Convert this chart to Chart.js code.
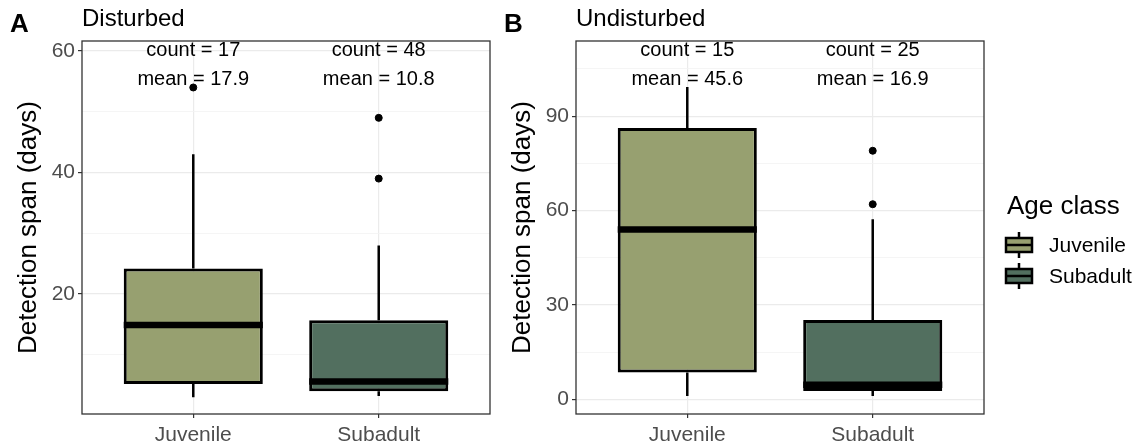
<!DOCTYPE html>
<html lang="en">
<head>
<meta charset="UTF-8"/>
<title>Detection span by age class</title>
<script src="https://cdn.jsdelivr.net/npm/chart.js"></script>
<style>
  body { margin: 0; background: #fff; width: 1145px; height: 448px; overflow: hidden; position: relative; }
  #panelA { position: absolute; left: 0; top: 0; }
  #panelB { position: absolute; left: 500px; top: 0; }
</style>
</head>
<body>
<canvas id="panelA" width="500" height="448"></canvas>
<canvas id="panelB" width="645" height="448"></canvas>
<script>
const categories = ['Juvenile', 'Subadult'];

// A: disturbed sites
const disturbedLow = [3, 3.2];
const disturbedQ1 = [5.2, 4.0];
const disturbedMedian = [14.9, 5.6];
const disturbedQ3 = [24.2, 15.7];
const disturbedHigh = [43, 28];
const disturbedOutliers = [[54], [49, 39]];
const disturbedCount = [17, 48];
const disturbedMean = [17.9, 10.8];
const disturbedTicks = [20, 40, 60];
const disturbedMinor = [10, 30, 50];

// B: undisturbed sites
const undisturbedLow = [1, 1];
const undisturbedQ1 = [8.5, 2.6];
const undisturbedMedian = [54, 4.6];
const undisturbedQ3 = [86.2, 25.2];
const undisturbedHigh = [99.3, 57.2];
const undisturbedOutliers = [[], [79, 62]];
const undisturbedCount = [15, 25];
const undisturbedMean = [45.6, 16.9];
const undisturbedTicks = [0, 30, 60, 90];
const undisturbedMinor = [15, 45, 75, 105];

const fillColors = ['#97a070', '#526f5f'];
const FONT = '"Liberation Sans", Arial, sans-serif';

function makePanel(id, p) {
  const parts = {
    id: 'boxParts',
    afterDatasetsDraw(chart) {
      const { ctx, scales: { x, y } } = chart;
      const bars = chart.getDatasetMeta(0).data;
      ctx.save();
      ctx.strokeStyle = '#000';
      ctx.lineCap = 'butt';
      p.median.forEach((m, i) => {
        const cx = x.getPixelForValue(i + 1);
        ctx.lineWidth = 2.5;
        ctx.beginPath();
        ctx.moveTo(cx, y.getPixelForValue(p.q3[i]));
        ctx.lineTo(cx, y.getPixelForValue(p.high[i]));
        ctx.moveTo(cx, y.getPixelForValue(p.q1[i]));
        ctx.lineTo(cx, y.getPixelForValue(p.low[i]));
        ctx.stroke();
        const half = bars[i].width / 2;
        ctx.lineWidth = 6.5;
        ctx.beginPath();
        ctx.moveTo(cx - half, y.getPixelForValue(m));
        ctx.lineTo(cx + half, y.getPixelForValue(m));
        ctx.stroke();
      });
      ctx.restore();
    },
    afterDraw(chart) {
      const { ctx, chartArea: a, scales: { x } } = chart;
      ctx.save();
      ctx.strokeStyle = '#333';
      ctx.lineWidth = 1.3;
      ctx.strokeRect(a.left, a.top, a.right - a.left, a.bottom - a.top);

      ctx.fillStyle = '#000';
      ctx.textAlign = 'center';
      ctx.textBaseline = 'middle';
      ctx.font = '20px ' + FONT;
      p.count.forEach((c, i) => {
        const cx = x.getPixelForValue(i + 1);
        ctx.fillText('count = ' + c, cx, a.top + 9);
        ctx.fillText('mean = ' + p.mean[i].toFixed(1), cx, a.top + 38);
      });

      ctx.textAlign = 'left';
      ctx.textBaseline = 'alphabetic';
      ctx.font = 'bold 26px ' + FONT;
      ctx.fillText(p.letter, a.left - 72, 32);
      ctx.font = '24px ' + FONT;
      ctx.fillText(p.title, a.left, 26);

      ctx.save();
      ctx.translate(a.left - 53, (a.top + a.bottom) / 2);
      ctx.rotate(-Math.PI / 2);
      ctx.textAlign = 'center';
      ctx.textBaseline = 'middle';
      ctx.font = '26px ' + FONT;
      ctx.fillText('Detection span (days)', 0, 0);
      ctx.restore();

      if (p.legend) {
        const lx = a.right + 23;
        ctx.textAlign = 'left';
        ctx.textBaseline = 'alphabetic';
        ctx.font = '26px ' + FONT;
        ctx.fillText('Age class', lx, 214);
        categories.forEach((c, i) => {
          const cy = 245 + i * 31;
          const kx = lx + 12;
          ctx.strokeStyle = '#000';
          ctx.lineWidth = 2.5;
          ctx.beginPath();
          ctx.moveTo(kx, cy - 13); ctx.lineTo(kx, cy + 13);
          ctx.stroke();
          ctx.fillStyle = fillColors[i];
          ctx.fillRect(kx - 13, cy - 7, 26, 14);
          ctx.strokeRect(kx - 13, cy - 7, 26, 14);
          ctx.beginPath();
          ctx.moveTo(kx - 13, cy); ctx.lineTo(kx + 13, cy);
          ctx.stroke();
          ctx.fillStyle = '#000';
          ctx.textBaseline = 'middle';
          ctx.font = '21px ' + FONT;
          ctx.fillText(c, lx + 42, cy + 1);
          ctx.textBaseline = 'alphabetic';
        });
      }
      ctx.restore();
    }
  };

  const outliers = [];
  p.outliers.forEach((vals, i) => vals.forEach(v => outliers.push({ x: i + 1, y: v })));
  const isMajor = v => p.ticks.includes(v);

  return new Chart(document.getElementById(id), {
    type: 'bar',
    data: {
      datasets: [{
        data: categories.map((c, i) => ({ x: i + 1, y: [p.q1[i], p.q3[i]] })),
        backgroundColor: fillColors,
        borderColor: '#000',
        borderWidth: 3,
        borderSkipped: false,
        barPercentage: 0.75,
        categoryPercentage: 1
      }, {
        type: 'scatter',
        data: outliers,
        backgroundColor: '#000',
        borderColor: '#000',
        pointRadius: 3.5
      }]
    },
    options: {
      responsive: false,
      animation: false,
      layout: { padding: { left: p.padLeft, right: p.padRight, top: 41, bottom: 0 } },
      plugins: { legend: { display: false }, tooltip: { enabled: false } },
      scales: {
        x: {
          type: 'linear', min: 0.4, max: 2.6, offset: false,
          afterBuildTicks: s => { s.ticks = categories.map((c, i) => ({ value: i + 1 })); },
          afterFit: s => { s.height = 34; },
          grid: { offset: false, color: '#ebebeb', lineWidth: 1.2, tickLength: 4, tickColor: '#333' },
          border: { display: false },
          ticks: {
            callback: v => categories[v - 1],
            color: '#4d4d4d', font: { family: FONT, size: 21 },
            padding: 5, autoSkip: false, maxRotation: 0
          }
        },
        y: {
          min: p.yMin, max: p.yMax, beginAtZero: false,
          afterBuildTicks: s => {
            s.ticks = p.ticks.concat(p.minor).sort((a, b) => a - b).map(v => ({ value: v }));
          },
          afterFit: s => { s.width = 60; },
          grid: {
            color: c => (c.tick && isMajor(c.tick.value)) ? '#ebebeb' : '#f3f3f3',
            lineWidth: c => (c.tick && isMajor(c.tick.value)) ? 1.2 : 0.8,
            tickColor: c => (c.tick && isMajor(c.tick.value)) ? '#333' : 'rgba(0,0,0,0)',
            tickLength: 4
          },
          border: { display: false },
          ticks: {
            callback: v => isMajor(v) ? String(v) : '',
            color: '#4d4d4d', font: { family: FONT, size: 21 },
            padding: 3, autoSkip: false
          }
        }
      }
    },
    plugins: [parts]
  });
}

makePanel('panelA', {
  letter: 'A', title: 'Disturbed', legend: false,
  low: disturbedLow, q1: disturbedQ1, median: disturbedMedian, q3: disturbedQ3, high: disturbedHigh,
  outliers: disturbedOutliers, count: disturbedCount, mean: disturbedMean,
  ticks: disturbedTicks, minor: disturbedMinor,
  yMin: 0.25, yMax: 61.65, padLeft: 22, padRight: 10
});

makePanel('panelB', {
  letter: 'B', title: 'Undisturbed', legend: true,
  low: undisturbedLow, q1: undisturbedQ1, median: undisturbedMedian, q3: undisturbedQ3, high: undisturbedHigh,
  outliers: undisturbedOutliers, count: undisturbedCount, mean: undisturbedMean,
  ticks: undisturbedTicks, minor: undisturbedMinor,
  yMin: -4.7, yMax: 113.9, padLeft: 16, padRight: 161
});
</script>
</body>
</html>
